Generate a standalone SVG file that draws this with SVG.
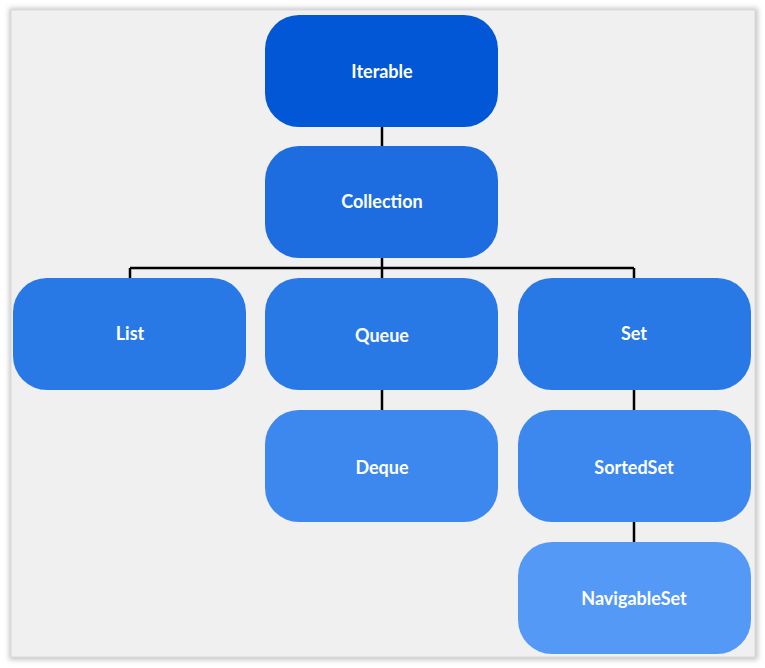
<svg xmlns="http://www.w3.org/2000/svg" width="765" height="668" viewBox="0 0 765 668">
<defs>
<filter id="sh" x="-5%" y="-5%" width="110%" height="110%"><feGaussianBlur stdDeviation="2.5"/></filter>
<style>
.n{stroke:none}
.t{font-family:"Lato","Noto Sans",sans-serif;font-weight:bold;font-size:18px;fill:#ffffff;text-anchor:middle;dominant-baseline:central}
.c{stroke:#000;stroke-width:2.5;fill:none}
</style>
</defs>
<rect width="765" height="668" fill="#ffffff"/>
<rect x="9" y="8" width="749" height="652" fill="#c8c8c8" filter="url(#sh)"/>
<rect x="11" y="10" width="744" height="647" fill="#f0f0f0" stroke="#dadada" stroke-width="1"/>
<g id="connectors">
<path class="c" d="M382 127V146M382 258V278M130 268H634M130 268V278M634 268V278M382 390V410M634 390V410M634 522V542"/>
</g>
<g id="node-iterable"><rect class="n" x="265" y="15" width="233" height="112" rx="34" fill="#0257d6"/><text class="t" x="382" y="71">Iterable</text></g>
<g id="node-collection"><rect class="n" x="265" y="146" width="233" height="112" rx="34" fill="#1d6de0"/><text class="t" x="382" y="201">Collection</text></g>
<g id="node-list"><rect class="n" x="13" y="278" width="233" height="112" rx="34" fill="#2878e6"/><text class="t" x="130" y="333">List</text></g>
<g id="node-queue"><rect class="n" x="265" y="278" width="233" height="112" rx="34" fill="#2878e6"/><text class="t" x="382" y="335">Queue</text></g>
<g id="node-set"><rect class="n" x="518" y="278" width="233" height="112" rx="34" fill="#2878e6"/><text class="t" x="634" y="333">Set</text></g>
<g id="node-deque"><rect class="n" x="265" y="410" width="233" height="112" rx="34" fill="#3d88ee"/><text class="t" x="382" y="467">Deque</text></g>
<g id="node-sortedset"><rect class="n" x="518" y="410" width="233" height="112" rx="34" fill="#3d88ee"/><text class="t" x="634" y="467">SortedSet</text></g>
<g id="node-navigableset"><rect class="n" x="518" y="542" width="233" height="112" rx="34" fill="#5599f7"/><text class="t" x="634" y="598">NavigableSet</text></g>
</svg>
